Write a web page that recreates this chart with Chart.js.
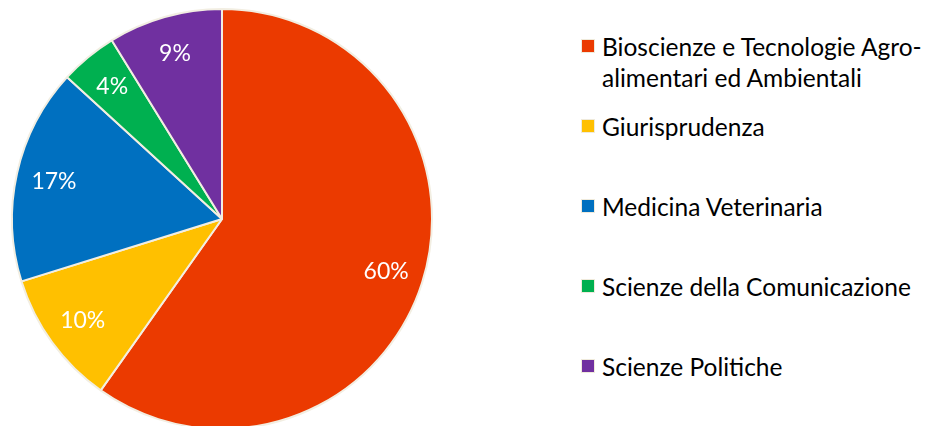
<!DOCTYPE html>
<html>
<head>
<meta charset="utf-8">
<script src="https://cdn.jsdelivr.net/npm/chart.js@4/dist/chart.umd.min.js"></script>
<style>
    html, body { margin: 0; padding: 0; background: #fff; width: 930px; height: 426px; overflow: hidden; position: relative; }
    #pieBox { position: absolute; left: 0; top: -3px; width: 444px; height: 444px; }
    #legend { position: absolute; left: 580px; top: 0; font-family: 'Lato', sans-serif; font-size: 24.5px; color: #000; }
    .item { position: absolute; left: 0; white-space: nowrap; line-height: 31px; }
    .sw { position: absolute; left: 1px; top: 8px; width: 14px; height: 14px; box-sizing: border-box; border: 1px solid #efeadb; }
    .txt { position: absolute; left: 22px; top: 0; }
</style>
</head>
<body>
<div id="pieBox"><canvas id="pie"></canvas></div>
<div id="legend"></div>
<script>
// dati
const categorie = [
    'Bioscienze e Tecnologie Agro-\nalimentari ed Ambientali',
    'Giurisprudenza',
    'Medicina Veterinaria',
    'Scienze della Comunicazione',
    'Scienze Politiche'
];
const percentuali = [59.8, 10.4, 16.6, 4.4, 8.8];
const colori = ['#EB3A00', '#FFC000', '#0070C0', '#00B050', '#7030A0'];

// legenda html
const legend = document.getElementById('legend');
categorie.forEach((c, i) => {
    const div = document.createElement('div');
    div.className = 'item';
    div.style.top = (31 + i * 80) + 'px';
    div.innerHTML = `<span class="sw" style="background:${colori[i]}"></span><span class="txt">${c.replace('\n', '<br>')}</span>`;
    legend.appendChild(div);
});

// etichette percentuali dentro le fette
const etichette = {
    id: 'etichette',
    afterDatasetsDraw(chart) {
        const { ctx } = chart;
        const meta = chart.getDatasetMeta(0);
        const tot = percentuali.reduce((a, b) => a + b, 0);
        ctx.save();
        ctx.fillStyle = '#fff';
        ctx.font = '23px Lato';
        ctx.textAlign = 'center';
        ctx.textBaseline = 'middle';
        meta.data.forEach((arc, i) => {
            const mid = (arc.startAngle + arc.endAngle) / 2;
            const r = arc.outerRadius * 0.82;
            const x = arc.x + Math.cos(mid) * r;
            const y = arc.y + Math.sin(mid) * r;
            ctx.fillText(Math.round(percentuali[i] / tot * 100) + '%', x, y);
        });
        ctx.restore();
    }
};

new Chart(document.getElementById('pie').getContext('2d'), {
    type: 'pie',
    data: {
        labels: categorie,
        datasets: [{
            data: percentuali,
            backgroundColor: colori,
            borderColor: '#F2EEE2',
            borderWidth: 2
        }]
    },
    options: {
        responsive: true,
        maintainAspectRatio: false,
        animation: false,
        layout: { padding: 11 },
        plugins: {
            legend: { display: false },
            tooltip: { enabled: false }
        }
    },
    plugins: [etichette]
});
</script>
</body>
</html>
